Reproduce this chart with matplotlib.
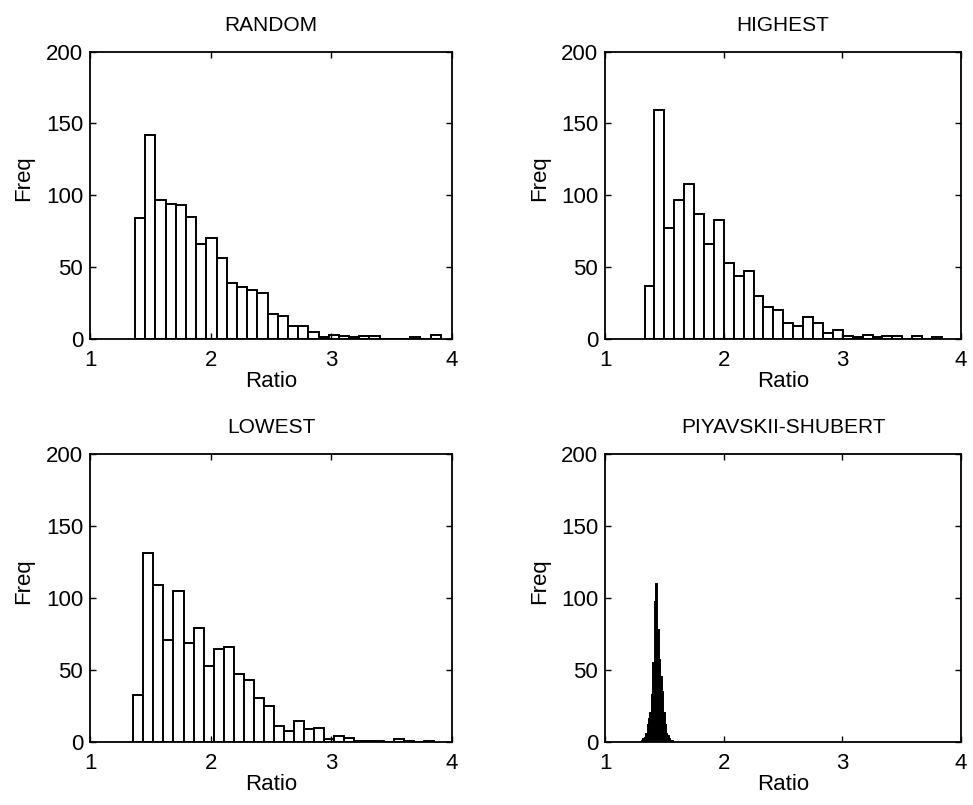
import numpy as np
import matplotlib
matplotlib.use('Agg')
import matplotlib.pyplot as plt

plt.rcParams['font.family'] = ['Liberation Sans', 'DejaVu Sans']

# histogram counts (30 bins each for the first three)
random_start, random_width = 1.373, 0.0845
random_counts = [84, 142, 97, 94, 93, 85, 66, 70, 56, 39, 36, 34, 32, 17, 16,
                 9, 9, 5, 1, 3, 2, 1, 2, 2, 0, 0, 0, 1, 0, 3]

highest_start, highest_width = 1.333, 0.0835
highest_counts = [37, 159, 77, 97, 108, 87, 66, 83, 53, 44, 47, 30, 22, 20, 11,
                  9, 15, 11, 4, 6, 2, 1, 3, 1, 2, 2, 0, 2, 0, 1]

lowest_start, lowest_width = 1.36, 0.083
lowest_counts = [33, 131, 109, 71, 105, 69, 79, 53, 65, 66, 47, 43, 31, 25, 11,
                 8, 15, 9, 10, 2, 4, 3, 1, 1, 1, 0, 2, 1, 0, 1]

ps_start, ps_width = 1.31, 0.012
ps_counts = [1, 2, 3, 6, 12, 16, 20, 33, 55, 97, 110, 78, 57, 45, 35, 20,
             12, 6, 4, 2, 1, 1]

titles = ['RANDOM', 'HIGHEST', 'LOWEST', 'PIYAVSKII-SHUBERT']
x_ticks = [1, 2, 3, 4]
y_ticks = [0, 50, 100, 150, 200]

panels = [
    (random_start, random_width, random_counts, 'white'),
    (highest_start, highest_width, highest_counts, 'white'),
    (lowest_start, lowest_width, lowest_counts, 'white'),
    (ps_start, ps_width, ps_counts, '#262626'),
]

# axes rectangles in figure fractions
rects = [
    [0.0925, 0.579, 0.372, 0.357],
    [0.6218, 0.579, 0.366, 0.357],
    [0.0925, 0.078, 0.372, 0.358],
    [0.6218, 0.078, 0.366, 0.358],
]

fig = plt.figure(figsize=(9.73, 8.05), dpi=100)

for rect, title, (start, width, counts, fill) in zip(rects, titles, panels):
    ax = fig.add_axes(rect)
    edges = start + width * np.arange(len(counts))
    ax.bar(edges, counts, width=width, align='edge', color=fill,
           edgecolor='black', linewidth=1.4)
    ax.set_xlim(1, 4)
    ax.set_ylim(0, 200)
    ax.set_xticks(x_ticks)
    ax.set_yticks(y_ticks)
    ax.tick_params(direction='in', top=True, right=True, length=4,
                   width=1, labelsize=16, pad=5)
    ax.tick_params(axis='x', pad=8)
    ax.set_title(title, fontsize=15, pad=15)
    ax.set_xlabel('Ratio', fontsize=16, labelpad=0)
    ax.set_ylabel('Freq', fontsize=16)
    ax.yaxis.set_label_coords(-0.155, 0.56)
    for s in ax.spines.values():
        s.set_linewidth(1.3)

fig.savefig('out.png', dpi=100)
